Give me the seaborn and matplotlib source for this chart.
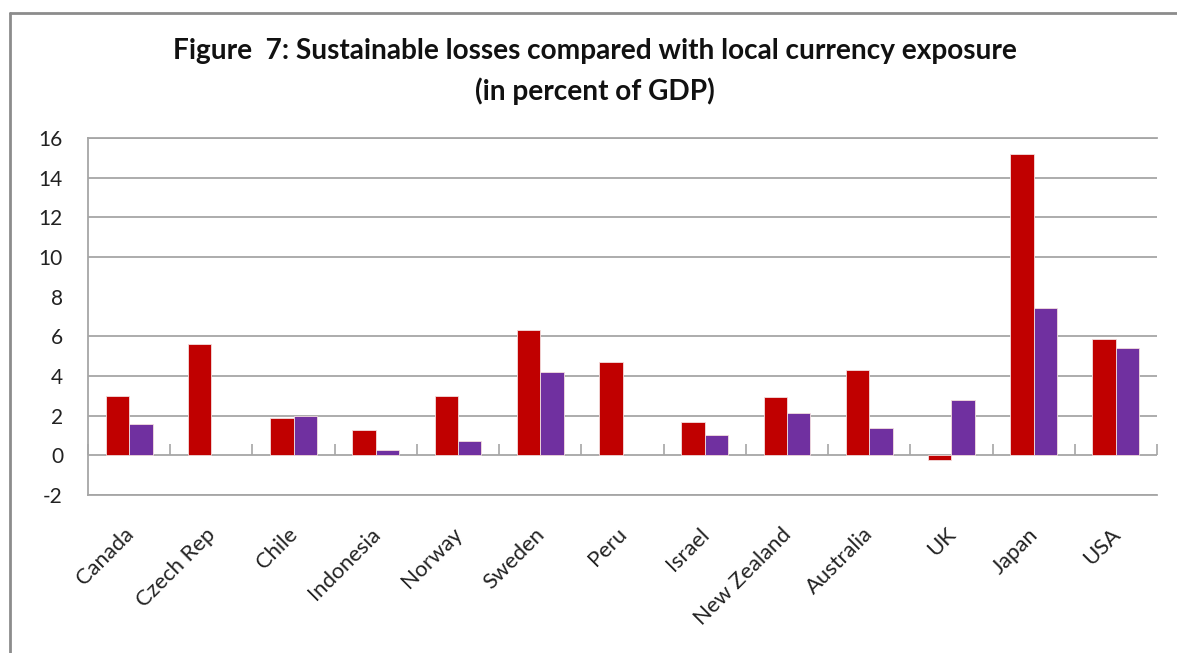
import matplotlib
matplotlib.use("Agg")
import matplotlib.pyplot as plt
import matplotlib.transforms as mtransforms
from matplotlib.lines import Line2D
import seaborn as sns
import pandas as pd
import numpy as np

# ---- data ----
countries = ["Canada", "Czech Rep", "Chile", "Indonesia", "Norway", "Sweden", "Peru",
             "Israel", "New Zealand", "Australia", "UK", "Japan", "USA"]
sustainable_losses = [3.0, 5.6, 1.9, 1.3, 3.0, 6.3, 4.7, 1.7, 2.95, 4.3, -0.25, 15.2, 5.85]
local_currency_exposure = [1.6, 0.0, 2.0, 0.25, 0.7, 4.2, 0.0, 1.05, 2.15, 1.4, 2.8, 7.45, 5.4]
series_names = ["Sustainable losses", "Local currency exposure"]
yticks = [-2, 0, 2, 4, 6, 8, 10, 12, 14, 16]
title_lines = ["Figure  7: Sustainable losses compared with local currency exposure",
               "(in percent of GDP)"]

df = pd.DataFrame({
    "country": countries * 2,
    "value": sustainable_losses + local_currency_exposure,
    "series": [series_names[0]] * len(countries) + [series_names[1]] * len(countries),
})

sns.set_theme(style="white")
plt.rcParams["font.family"] = ["Lato", "DejaVu Sans"]
plt.rcParams["axes.unicode_minus"] = False

W, H = 1177, 653
fig = plt.figure(figsize=(W / 100, H / 100), dpi=100)
fig.patch.set_facecolor("white")
ax = fig.add_axes([88 / W, 1 - 495 / H, (1157 - 88) / W, (495 - 138) / H])

grid_col = "#a6a6a6"
# horizontal gridlines (the reference shows none at 8)
for t in yticks:
    if t != 8:
        ax.axhline(t, color=grid_col, linewidth=1.3, zorder=0)

sns.barplot(data=df, x="country", y="value", hue="series",
            palette=["#C00000", "#7030A0"], width=0.57, saturation=1,
            ax=ax, legend=False, edgecolor="#f3dede", linewidth=0.6, zorder=2)
for p in ax.patches:
    if p.get_height() == 0:
        p.set_edgecolor("none")

ax.set_ylim(yticks[0], yticks[-1])
ax.set_xlim(-0.5, len(countries) - 0.5)
ax.set_yticks(yticks)
ax.grid(False)

ax.spines["right"].set_visible(False)
for s in ["left", "top", "bottom"]:
    ax.spines[s].set_color(grid_col)
    ax.spines[s].set_linewidth(1.3)

ax.set_xlabel("")
ax.set_ylabel("")
ax.tick_params(axis="y", length=0, pad=18, labelsize=15, labelcolor="#222222")
ax.tick_params(axis="x", length=0, pad=26, labelsize=15.8, labelcolor="#222222")
offset = mtransforms.ScaledTranslation(1 / 100, 0, fig.dpi_scale_trans)
for lab in ax.get_xticklabels():
    lab.set_rotation(45)
    lab.set_ha("right")
    lab.set_va("center")
    lab.set_rotation_mode("anchor")
    lab.set_transform(lab.get_transform() + offset)

# category-boundary tick marks on the zero line
zero_frac = (0 - yticks[0]) / (yticks[-1] - yticks[0])
sec = ax.secondary_xaxis(zero_frac)
sec.set_xticks(np.arange(-0.5, len(countries), 1.0))
sec.tick_params(axis="x", direction="in", length=8, width=1.2, color=grid_col,
                labelbottom=False, labeltop=False, bottom=True, top=False)
for s in sec.spines.values():
    s.set_visible(False)

# titles
fig.text(595 / W, 1 - 51 / H, title_lines[0], ha="center", va="center",
         fontsize=20.2, fontweight="bold", color="#111111")
fig.text(595 / W, 1 - 91 / H, title_lines[1], ha="center", va="center",
         fontsize=20.2, fontweight="bold", color="#111111")

# outer frame (top and left edges)
fig.add_artist(Line2D([10 / W, 1.0], [1 - 13 / H, 1 - 13 / H], transform=fig.transFigure,
                      color="#8c8c8c", linewidth=2))
fig.add_artist(Line2D([10 / W, 10 / W], [0, 1 - 13 / H], transform=fig.transFigure,
                      color="#8c8c8c", linewidth=2))

fig.savefig("out.png", dpi=100, facecolor="white")
